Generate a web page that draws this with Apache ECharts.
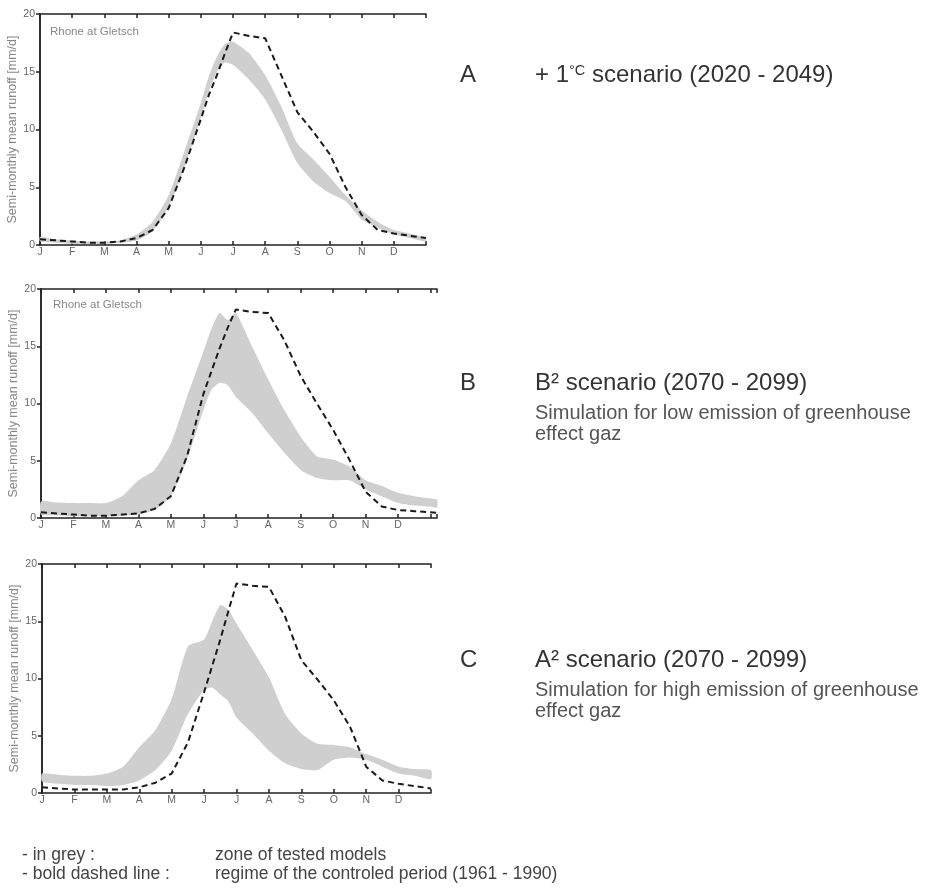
<!DOCTYPE html>
<html>
<head>
<meta charset="utf-8">
<script src="https://cdn.jsdelivr.net/npm/echarts@6/dist/echarts.min.js"></script>
<style>
html,body{margin:0;padding:0;background:#fff;}
#chart{width:926px;height:894px;}
</style>
</head>
<body>
<div id="chart"></div>
<script>
// ---- data ----
const monthLabels = ['J','F','M','A','M','J','J','A','S','O','N','D'];
const yTicks = [0, 5, 10, 15, 20];

const xA = [0,0.5,1,1.5,2,2.5,3,3.5,4,4.5,5,5.25,5.5,5.75,6,6.5,7,7.5,8,8.5,9,9.5,10,10.5,11,11.5,12];
const controlA = [0.5,0.4,0.3,0.2,0.2,0.3,0.6,1.3,3.2,6.8,10.9,13.0,14.7,16.6,18.4,18.1,17.9,14.7,11.5,9.8,7.9,5.0,2.6,1.3,1.0,0.8,0.6];
const lowA = [0.3,0.2,0.1,0.1,0.1,0.2,0.4,1.2,3.3,6.8,11.0,13.3,15.0,15.8,15.6,14.3,12.6,10.0,7.1,5.5,4.5,3.8,2.2,1.5,0.9,0.6,0.3];
const highA = [0.7,0.5,0.4,0.3,0.3,0.4,0.9,2.0,4.3,8.2,12.3,14.6,16.3,17.4,17.6,16.6,14.7,12.0,8.8,7.4,5.9,4.3,3.0,2.0,1.3,1.0,0.6];

const xB = [0,0.5,1,1.5,2,2.5,3,3.5,4,4.5,5,5.25,5.5,5.75,6,6.5,7,7.5,8,8.5,9,9.5,10,10.5,11,11.5,12,12.2];
const controlB = [0.5,0.4,0.3,0.2,0.2,0.3,0.4,0.8,1.9,5.4,10.8,12.8,14.8,16.6,18.2,18.0,17.9,15.5,12.4,10.0,7.7,5.1,2.3,1.0,0.7,0.6,0.5,0.45];
const lowB = [0.3,0.25,0.15,0.15,0.15,0.2,0.3,0.7,1.9,5.1,9.4,11.2,11.8,11.6,10.6,9.2,7.4,5.7,4.2,3.5,3.3,3.3,2.5,1.9,1.3,1.1,1.0,0.9];
const highB = [1.45,1.35,1.3,1.3,1.3,1.9,3.3,4.2,6.5,10.6,14.5,16.5,17.9,17.3,17.9,15.0,12.1,9.4,7.1,5.4,5.1,4.5,3.3,2.8,2.2,1.9,1.7,1.6];

const xC = [0,0.5,1,1.5,2,2.5,3,3.5,4,4.5,5,5.25,5.5,5.75,6,6.5,7,7.5,8,8.5,9,9.5,10,10.5,11,11.5,12];
const controlC = [0.5,0.4,0.3,0.3,0.3,0.3,0.5,0.9,1.7,4.4,8.8,11.1,13.4,15.9,18.3,18.1,18.0,15.4,11.6,9.9,8.1,5.8,2.3,1.1,0.8,0.6,0.4];
const lowC = [1.0,0.8,0.7,0.7,0.6,0.7,1.1,2.0,3.7,6.9,9.0,9.2,8.6,8.0,6.6,5.2,3.7,2.6,2.1,2.0,2.9,3.1,2.9,2.3,1.7,1.5,1.2];
const highC = [1.7,1.6,1.5,1.5,1.7,2.3,4.0,5.5,8.2,12.8,13.4,15.0,16.4,16.0,14.8,12.5,10.1,6.9,5.2,4.3,4.2,4.0,3.4,2.9,2.3,2.1,2.0];

const yAxisName = 'Semi-monthly mean runoff [mm/d]';
const stationName = 'Rhone at Gletsch';

// ---- layout ----
const FONT = '"Liberation Sans", Arial, Helvetica, sans-serif';
const panels = [
  {x: xA, ctrl: controlA, lo: lowA, hi: highA, xMax: 12, grid: {left: 40, top: 14, width: 386, height: 231}},
  {x: xB, ctrl: controlB, lo: lowB, hi: highB, xMax: 12.2, grid: {left: 41, top: 289, width: 396, height: 229}},
  {x: xC, ctrl: controlC, lo: lowC, hi: highC, xMax: 12, grid: {left: 42, top: 564, width: 389, height: 229}}
];

const AX = '#222';
const grids = [], xAxes = [], yAxes = [], series = [];
const pairs = (xs, ys) => xs.map((v, i) => [v, ys[i]]);

panels.forEach((p, k) => {
  grids.push(Object.assign({containLabel: false}, p.grid));
  const tickStyle = {show: true, inside: true, length: 4, lineStyle: {color: AX, width: 1.5}};
  xAxes.push({
    type: 'value', gridIndex: k, min: 0, max: p.xMax, interval: 1, position: 'bottom',
    axisLine: {show: true, onZero: false, lineStyle: {color: AX, width: 1.5}},
    axisTick: tickStyle,
    splitLine: {show: false},
    axisLabel: {show: true, margin: 2, fontSize: 10.5, color: '#666', fontFamily: FONT,
      formatter: v => (Number.isInteger(v) && v < 12) ? monthLabels[v] : ''}
  });
  xAxes.push({
    type: 'value', gridIndex: k, min: 0, max: p.xMax, interval: 1, position: 'top',
    axisLine: {show: true, onZero: false, lineStyle: {color: AX, width: 1.5}},
    axisTick: tickStyle, splitLine: {show: false}, axisLabel: {show: false}
  });
  yAxes.push({
    type: 'value', gridIndex: k, min: yTicks[0], max: yTicks[yTicks.length - 1], interval: 5, position: 'left',
    name: yAxisName, nameLocation: 'middle', nameGap: 19, nameRotate: 90,
    nameTextStyle: {fontSize: 12.5, color: '#888', fontFamily: FONT},
    axisLine: {show: true, lineStyle: {color: AX, width: 1.5}},
    axisTick: {show: false}, splitLine: {show: false},
    axisLabel: {show: true, margin: 5, fontSize: 10.5, color: '#666', fontFamily: FONT}
  });
  yAxes.push({
    type: 'value', gridIndex: k, min: 0, max: 20, interval: 5, position: 'right',
    axisLine: {show: true, lineStyle: {color: AX, width: 1.5}},
    axisTick: tickStyle, splitLine: {show: false}, axisLabel: {show: false}
  });
  const xi = 2 * k, yi = 2 * k;
  const bandData = p.x.map((x, i) => [x, p.lo[i], p.hi[i]]);
  series.push({
    type: 'custom', coordinateSystem: 'cartesian2d', xAxisIndex: xi, yAxisIndex: yi,
    data: bandData, encode: {x: 0, y: [1, 2]}, silent: true, z: 1,
    renderItem: (params, api) => {
      if (params.dataIndex !== 0) return null;
      const upper = bandData.map(d => api.coord([d[0], d[2]]));
      const lower = bandData.map(d => api.coord([d[0], d[1]])).reverse();
      return {
        type: 'polygon',
        shape: {points: upper.concat(lower), smooth: 0.2},
        style: {fill: '#cfcfcf', stroke: null}
      };
    }
  });
  series.push({
    type: 'line', xAxisIndex: xi, yAxisIndex: yi,
    data: pairs(p.x, p.ctrl), symbol: 'none', smooth: false,
    lineStyle: {color: '#1a1a1a', width: 2, type: [6, 4]}, silent: true, z: 3
  });
});

const txt = (x, y, text, size, color, extra) => ({
  type: 'text', x: x, y: y, silent: true,
  style: Object.assign({text: text, fontSize: size, fill: color, fontFamily: FONT, verticalAlign: 'middle', align: 'left'}, extra || {})
});

const graphics = [
  txt(50, 32, stationName, 11.5, '#888'),
  txt(53, 305, stationName, 11.5, '#888'),
  txt(460, 75, 'A', 24, '#333'),
  txt(535, 75, '+ 1{s|°C} scenario (2020 - 2049)', 24, '#333', {rich: {s: {fontSize: 14.5, fill: '#333', fontFamily: FONT, verticalAlign: 'top', padding: [0, 0, 8, 0]}}}),
  txt(460, 383, 'B', 24, '#333'),
  txt(535, 383, 'B² scenario (2070 - 2099)', 24, '#333'),
  txt(535, 413, 'Simulation for low emission of greenhouse', 20, '#555'),
  txt(535, 434, 'effect gaz', 20, '#555'),
  txt(460, 660, 'C', 24, '#333'),
  txt(535, 660, 'A² scenario (2070 - 2099)', 24, '#333'),
  txt(535, 690, 'Simulation for high emission of greenhouse', 20, '#555'),
  txt(535, 711, 'effect gaz', 20, '#555'),
  txt(22, 855, '- in grey :', 17.5, '#444'),
  txt(215, 855, 'zone of tested models', 17.5, '#444'),
  txt(22, 874, '- bold dashed line :', 17.5, '#444'),
  txt(215, 874, 'regime of the controled period (1961 - 1990)', 17.5, '#444')
];

const chart = echarts.init(document.getElementById('chart'), null, {renderer: 'canvas'});
chart.setOption({
  backgroundColor: '#ffffff',
  animation: false,
  grid: grids,
  xAxis: xAxes,
  yAxis: yAxes,
  series: series,
  graphic: graphics
});
</script>
</body>
</html>
